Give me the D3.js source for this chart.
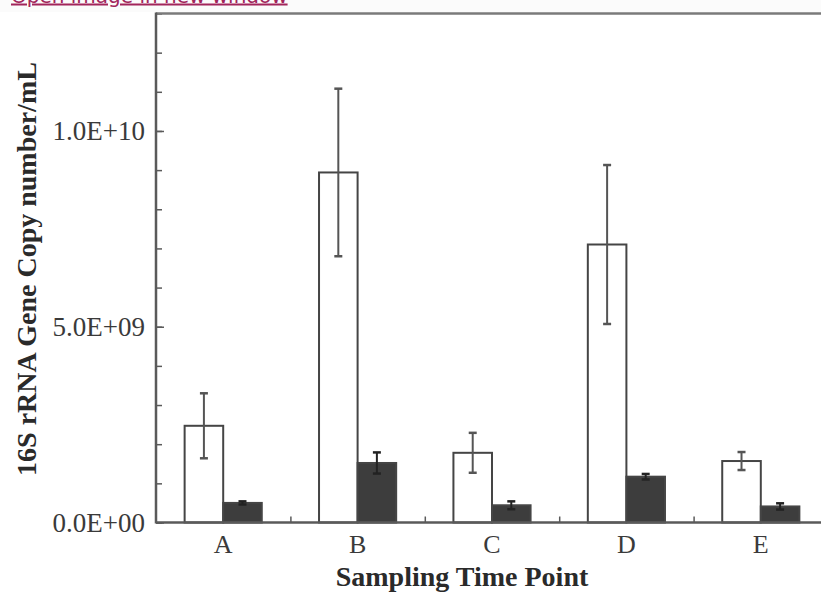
<!DOCTYPE html>
<html>
<head>
<meta charset="utf-8">
<script src="https://cdn.jsdelivr.net/npm/d3@7"></script>
<style>
  html, body { margin: 0; padding: 0; background: #ffffff; }
  svg { display: block; }
</style>
</head>
<body>
<svg id="chart" width="821" height="592"></svg>
<script>
// ---- data ----
const categories = ["A", "B", "C", "D", "E"];
const seriesNames = ["open", "filled"];
const openValues = [2.47e9, 8.94e9, 1.78e9, 7.10e9, 1.57e9];
const openErrors = [0.83e9, 2.14e9, 0.51e9, 2.03e9, 0.23e9];
const filledValues = [0.50e9, 1.52e9, 0.44e9, 1.17e9, 0.41e9];
const filledErrors = [0.04e9, 0.27e9, 0.10e9, 0.07e9, 0.08e9];
const yMajorTicks = [0, 5e9, 1e10];
const yTickLabels = ["0.0E+00", "5.0E+09", "1.0E+10"];
const yMinorTicks = d3.range(0, 13.5e9, 1e9);
const yMax = 1.3e10;
const xTitle = "Sampling Time Point";
const yTitle = "16S rRNA Gene Copy number/mL";
const linkText = "Open image in new window";

(function () {
const svg = d3.select("#chart");
const mLeft = 156, mRight = 828, mTop = 13.5, mBottom = 522.5;

const x0 = d3.scaleBand().domain(categories).range([mLeft, mRight]).padding(0);
const bw = x0.bandwidth();
const x1 = d3.scaleBand().domain(seriesNames).range([bw * 0.213, bw * 0.787]).padding(0);
const y = d3.scaleLinear().domain([0, yMax]).range([mBottom, mTop]);

const axisColor = "#5a5a5a";
const textColor = "#3a3a3a";
const serif = "'Liberation Serif', 'Times New Roman', serif";

// link text at the top
svg.append("rect").attr("x", 0).attr("y", 0).attr("width", 821).attr("height", 12).attr("fill", "#fbfbfb");
svg.append("text")
  .attr("x", 11).attr("y", 2.5)
  .attr("font-family", "'DejaVu Sans', Verdana, sans-serif")
  .attr("font-size", 20)
  .attr("fill", "#a2255b")
  .attr("text-decoration", "underline")
  .text(linkText);

// bars
const rows = categories.map((c, i) => ({
  cat: c,
  items: [
    {s: "open", v: openValues[i], e: openErrors[i]},
    {s: "filled", v: filledValues[i], e: filledErrors[i]}
  ]
}));

const groups = svg.append("g").selectAll("g").data(rows).join("g")
  .attr("transform", d => `translate(${x0(d.cat)},0)`);

groups.selectAll("rect").data(d => d.items).join("rect")
  .attr("x", d => x1(d.s))
  .attr("width", x1.bandwidth())
  .attr("y", d => y(d.v))
  .attr("height", d => y(0) - y(d.v))
  .attr("fill", d => d.s === "open" ? "#ffffff" : "#3d3d3d")
  .attr("stroke", "#454545")
  .attr("stroke-width", 2);

// error bars
const eb = groups.selectAll("g.err").data(d => d.items).join("g").attr("class", "err");
eb.append("line")
  .attr("x1", d => x1(d.s) + x1.bandwidth() / 2)
  .attr("x2", d => x1(d.s) + x1.bandwidth() / 2)
  .attr("y1", d => y(d.v + d.e))
  .attr("y2", d => y(d.v - d.e))
  .attr("stroke", d => d.s === "open" ? "#555" : "#222")
  .attr("stroke-width", 2);
eb.selectAll("line.cap").data(d => [
    {s: d.s, val: d.v + d.e}, {s: d.s, val: d.v - d.e}
  ]).join("line").attr("class", "cap")
  .attr("x1", d => x1(d.s) + x1.bandwidth() / 2 - 4)
  .attr("x2", d => x1(d.s) + x1.bandwidth() / 2 + 4)
  .attr("y1", d => y(d.val))
  .attr("y2", d => y(d.val))
  .attr("stroke", d => d.s === "open" ? "#555" : "#222")
  .attr("stroke-width", 2.5);

// y axis: minor ticks
const yMinorAxis = d3.axisLeft(y).tickValues(yMinorTicks).tickSize(-6).tickFormat("");
svg.append("g").attr("transform", `translate(${mLeft},0)`).call(yMinorAxis)
  .call(g => g.select(".domain").remove())
  .call(g => g.selectAll("line").attr("stroke", axisColor).attr("stroke-width", 1.5));

// y axis: major ticks with labels
const yAxis = d3.axisLeft(y).tickValues(yMajorTicks).tickSize(-8).tickPadding(11)
  .tickFormat((d, i) => yTickLabels[i]);
svg.append("g").attr("transform", `translate(${mLeft},0)`).call(yAxis)
  .call(g => g.select(".domain").remove())
  .call(g => g.selectAll("line").attr("stroke", axisColor).attr("stroke-width", 1.5))
  .call(g => g.selectAll("text")
    .attr("font-family", serif).attr("font-size", 27).attr("fill", textColor));

// x axis: boundary ticks
const xBoundaryAxis = d3.axisBottom(d3.scaleLinear().domain([0, categories.length]).range([mLeft, mRight]))
  .tickValues(d3.range(1, categories.length)).tickSize(-6).tickFormat("");
svg.append("g").attr("transform", `translate(0,${mBottom})`).call(xBoundaryAxis)
  .call(g => g.select(".domain").remove())
  .call(g => g.selectAll("line").attr("stroke", axisColor).attr("stroke-width", 1.5));

// x axis: category labels
const xAxis = d3.axisBottom(x0).tickSize(0).tickPadding(12);
svg.append("g").attr("transform", `translate(0,${mBottom})`).call(xAxis)
  .call(g => g.select(".domain").remove())
  .call(g => g.selectAll("text")
    .attr("font-family", serif).attr("font-size", 26).attr("fill", textColor));

// frame lines
svg.append("line").attr("x1", mLeft).attr("x2", 821).attr("y1", y(0)).attr("y2", y(0))
  .attr("stroke", axisColor).attr("stroke-width", 2.5);
svg.append("line").attr("x1", mLeft).attr("x2", 821).attr("y1", y(yMax)).attr("y2", y(yMax))
  .attr("stroke", "#7a7a7a").attr("stroke-width", 2.5);
svg.append("line").attr("x1", mLeft).attr("x2", mLeft).attr("y1", y(yMax) - 1).attr("y2", y(0) + 1)
  .attr("stroke", axisColor).attr("stroke-width", 2.5);

// titles
svg.append("text")
  .attr("x", 462).attr("y", 586)
  .attr("text-anchor", "middle")
  .attr("font-family", serif).attr("font-weight", "bold").attr("font-size", 28)
  .attr("fill", "#2a2a2a")
  .text(xTitle);

svg.append("text")
  .attr("transform", "translate(36,269) rotate(-90)")
  .attr("text-anchor", "middle")
  .attr("font-family", serif).attr("font-weight", "bold").attr("font-size", 28)
  .attr("fill", "#2a2a2a")
  .text(yTitle);
})();
</script>
</body>
</html>
